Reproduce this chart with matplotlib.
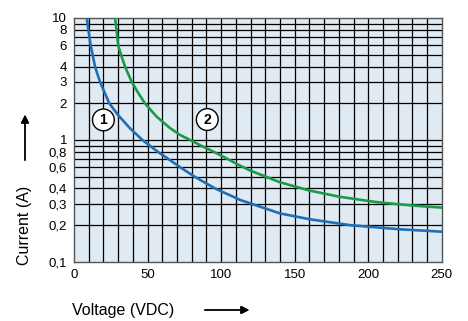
import matplotlib.pyplot as plt
import numpy as np
from matplotlib.ticker import FixedLocator, NullLocator

plt.rcParams['font.family'] = ['Liberation Sans', 'DejaVu Sans']

# curve 1 (blue)
v1 = [8.7, 9.8, 11.3, 12.7, 14.3, 17.7, 20.5, 24, 30, 38, 46.5, 57, 64, 72, 82, 96, 113, 140, 160, 188, 222, 250]
i1 = [10, 8, 6, 5, 4, 3, 2.5, 2, 1.6, 1.25, 1.0, 0.8, 0.7, 0.6, 0.5, 0.4, 0.322, 0.25, 0.224, 0.2, 0.185, 0.177]

# curve 2 (green)
v2 = [27.9, 29, 30, 32, 34.7, 39.2, 43.5, 48.2, 56, 65, 72, 80, 87, 94, 100, 113, 120, 140, 160, 180, 205, 222, 235, 250]
i2 = [10, 7.9, 6, 5, 4, 3, 2.45, 2, 1.56, 1.26, 1.1, 0.985, 0.89, 0.81, 0.745, 0.615, 0.56, 0.45, 0.385, 0.343, 0.31, 0.296, 0.287, 0.279]

yticks = [0.1, 0.2, 0.3, 0.4, 0.6, 0.8, 1, 2, 3, 4, 6, 8, 10]
ylabels = ['0,1', '0,2', '0,3', '0,4', '0,6', '0,8', '1', '2', '3', '4', '6', '8', '10']
xticks = [0, 50, 100, 150, 200, 250]

fig = plt.figure(figsize=(4.68, 3.21), dpi=100)
ax = fig.add_axes([0.158, 0.184, 0.786, 0.760])
ax.set_facecolor('#dfeaf2')
ax.set_yscale('log')
ax.set_xlim(0, 250)
ax.set_ylim(0.1, 10)

# grid
for x in range(10, 250, 10):
    ax.axvline(x, color='black', lw=0.9, zorder=1)
minor = [k * 10.0**e for e in (-1, 0) for k in range(2, 10)] + [1]
for y in minor:
    ax.axhline(y, color='black', lw=0.9, zorder=1)

ax.plot(v1, i1, color='#1f6fb6', lw=1.9, zorder=3, solid_joinstyle='round')
ax.plot(v2, i2, color='#1b9a4b', lw=1.9, zorder=3, solid_joinstyle='round')

# curve numbers
for txt, x, y in [('1', 20, 1.46), ('2', 90.6, 1.47)]:
    ax.text(x, y, txt, ha='center', va='center', fontsize=10, fontweight='bold', zorder=4,
            bbox=dict(boxstyle='circle,pad=0.28', fc='white', ec='black', lw=1.0))

ax.yaxis.set_major_locator(FixedLocator(yticks))
ax.yaxis.set_minor_locator(NullLocator())
ax.set_yticklabels(ylabels)
ax.set_xticks(xticks)
ax.tick_params(length=0, labelsize=9.5, pad=5)
for s in ax.spines.values():
    s.set_color('#555555')
    s.set_linewidth(1.0)

# axis labels and arrows
fig.text(25 / 468, 1 - 225 / 321, 'Current (A)', rotation=90, ha='center', va='center', fontsize=11.5)
fig.text(72 / 468, 1 - 310 / 321, 'Voltage (VDC)', ha='left', va='center', fontsize=11.5)
fig.add_artist(plt.annotate('', xy=(252 / 468, 1 - 310 / 321), xytext=(202 / 468, 1 - 310 / 321),
                            xycoords='figure fraction', textcoords='figure fraction',
                            arrowprops=dict(arrowstyle='-|>', color='black', lw=1.0, mutation_scale=12)))
fig.add_artist(plt.annotate('', xy=(25 / 468, 1 - 112 / 321), xytext=(25 / 468, 1 - 163 / 321),
                            xycoords='figure fraction', textcoords='figure fraction',
                            arrowprops=dict(arrowstyle='-|>', color='black', lw=1.0, mutation_scale=12)))

fig.savefig('out.png', dpi=100)
